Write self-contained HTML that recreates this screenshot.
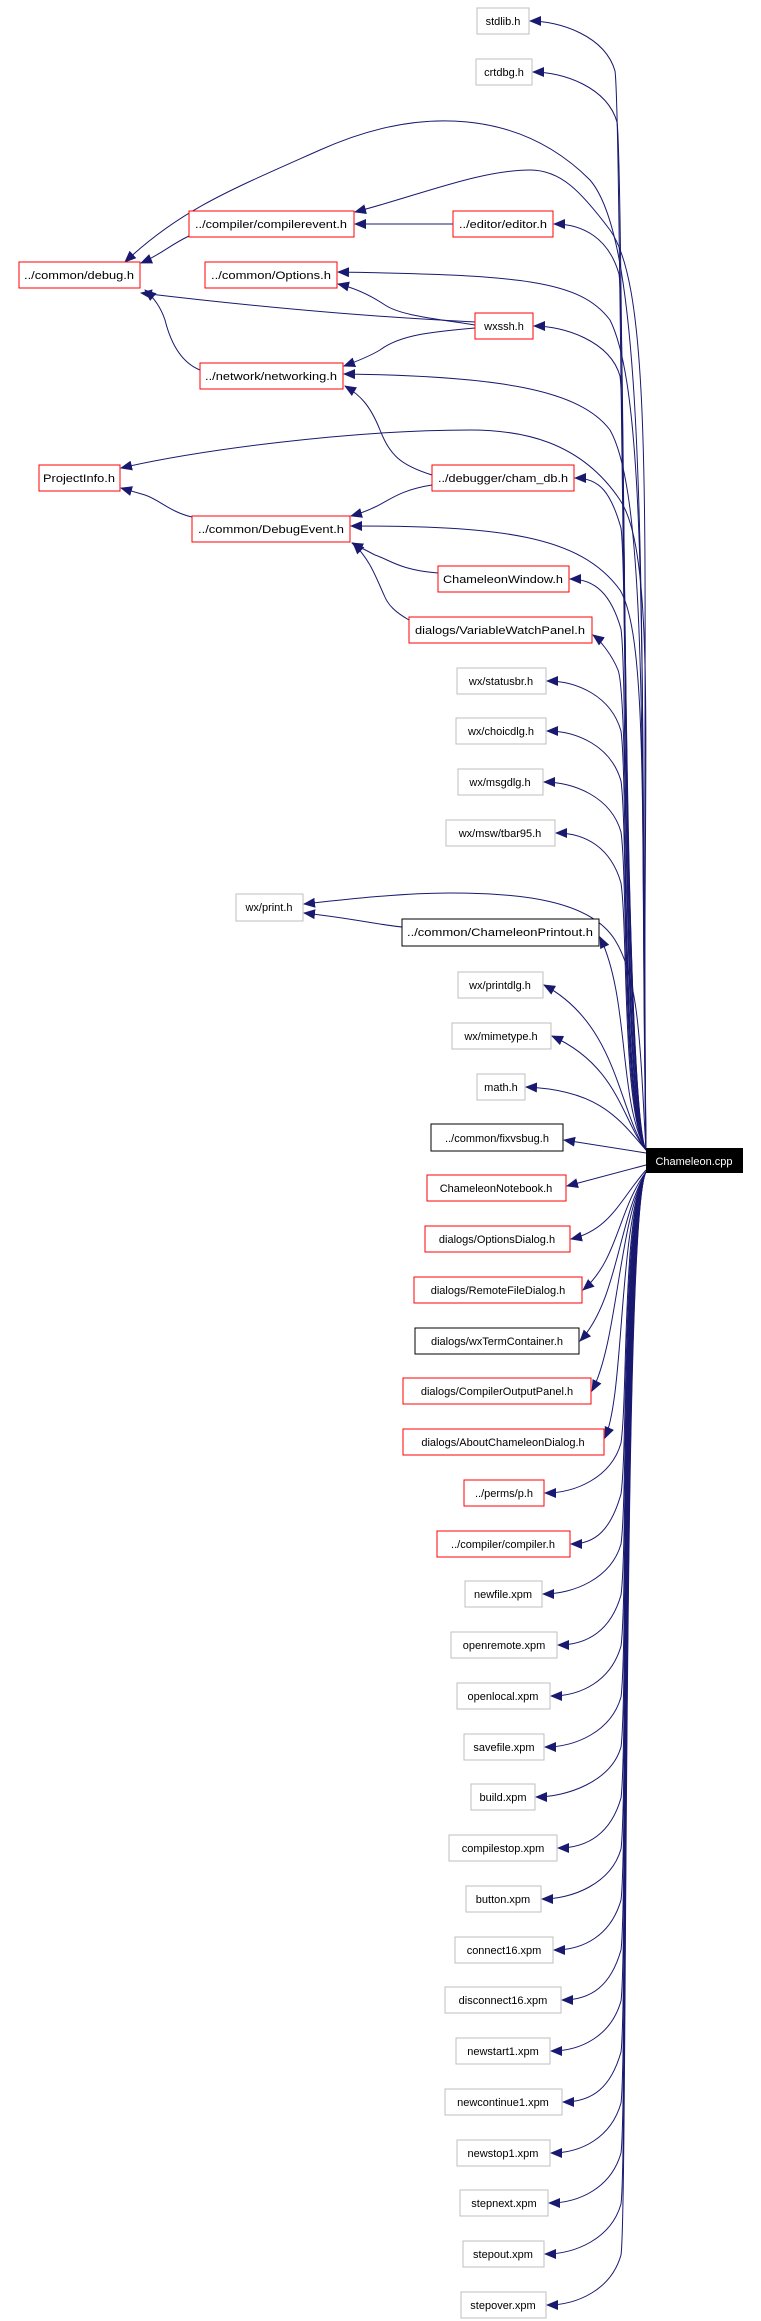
<!DOCTYPE html>
<html><head><meta charset="utf-8"><style>
html,body{margin:0;padding:0;background:#fff;}
svg{display:block;}
text{font-family:"Liberation Sans",sans-serif;font-size:11px;fill:#000;}
.g{fill:#fff;stroke:#bfbfbf;stroke-width:1;}
.r{fill:#fff;stroke:#ff0000;stroke-width:1;}
.k{fill:#fff;stroke:#000;stroke-width:1;}
path.e{fill:none;stroke:#191970;stroke-width:1;marker-end:url(#a);}
</style></head><body>
<svg width="761" height="2321" viewBox="0 0 761 2321" xmlns="http://www.w3.org/2000/svg">
<defs><marker id="a" markerUnits="userSpaceOnUse" markerWidth="12" markerHeight="10" refX="11" refY="5" orient="auto"><path d="M0,0 L12,5 L0,10 z" fill="#191970"/></marker></defs>

<!-- long arcs -->
<path class="e" d="M646,1150 C640,600 650,250 590,180 C520,110 420,105 320,150 C230,190 180,210 125,262"/>
<path class="e" d="M646,1150 C640,600 660,300 610,230 C580,190 560,170 530,170 C480,170 420,195 355,212"/>
<path class="e" d="M646,1150 C640,700 650,400 610,320 C580,280 520,275 338,272"/>
<path class="e" d="M646,1150 C640,800 650,500 610,430 C580,390 500,376 344,374"/>
<path class="e" d="M646,1150 C640,800 660,560 620,500 C580,440 520,430 470,430 C350,430 200,450 121,468"/>
<path class="e" d="M646,1150 C640,850 650,640 620,590 C580,535 500,526 351,526"/>
<path class="e" d="M646,1150 C640,1050 640,980 615,940 C590,900 520,893 450,893 C400,893 340,900 304,904"/>

<!-- internal edges -->
<path class="e" d="M453,224 L355,224"/>
<path class="e" d="M189,236 C170,245 160,255 141,263"/>
<path class="e" d="M475,322 C400,318 300,312 141,293"/>
<path class="e" d="M475,325 C430,318 400,315 385,305 C370,295 355,288 338,284"/>
<path class="e" d="M475,328 C430,332 400,335 380,350 C370,356 355,362 344,366"/>
<path class="e" d="M200,370 C180,362 170,340 165,320 C160,305 152,296 145,290"/>
<path class="e" d="M432,475 C400,465 390,455 380,430 C370,405 360,395 345,386"/>
<path class="e" d="M432,485 C400,490 390,500 375,507 C365,512 358,514 351,516"/>
<path class="e" d="M192,517 C170,512 160,500 145,495 L121,488"/>
<path class="e" d="M438,573 C400,570 390,560 375,555 L352,543"/>
<path class="e" d="M409,620 C395,612 388,605 384,595 C375,575 370,560 353,543"/>
<path class="e" d="M402,927 C380,925 350,918 304,913"/>

<!-- cpp to right column, above -->
<path class="e" d="M646,1150 C622,1110 622,121 615,71 C605,36 560,21 530,21"/>
<path class="e" d="M646,1150 C622,1110 624,172 617,122 C607,87 563,72 533,72"/>
<path class="e" d="M646,1150 C622,1110 626,324 619,274 C609,239 584,224 554,224"/>
<path class="e" d="M646,1150 C622,1110 627,426 620,376 C610,341 564,326 534,326"/>
<path class="e" d="M646,1150 C622,1110 628,578 621,528 C611,493 600,478 575,478"/>
<path class="e" d="M646,1150 C622,1110 628,679 621,629 C611,594 595,579 570,579"/>
<path class="e" d="M646,1150 C622,1110 630,700 618,670 C612,655 600,640 593,635"/>
<path class="e" d="M646,1150 C622,1110 628,781 621,731 C611,696 577,681 547,681"/>
<path class="e" d="M646,1150 C622,1110 628,831 621,781 C611,746 577,731 547,731"/>
<path class="e" d="M646,1150 C622,1110 628,882 621,832 C611,797 574,782 544,782"/>
<path class="e" d="M646,1150 C622,1110 628,933 621,883 C611,848 586,833 556,833"/>
<path class="e" d="M646,1150 C618,1100 630,1000 600,937"/>
<path class="e" d="M646,1150 C618,1110 618,1025 544,985"/>
<path class="e" d="M646,1150 C622,1120 618,1066 552,1036"/>
<path class="e" d="M646,1150 C620,1120 600,1090 526,1087"/>
<path class="e" d="M646,1153 L564,1140"/>
<!-- below -->
<path class="e" d="M646,1165 L567,1186"/>
<path class="e" d="M646,1170 C620,1200 610,1230 571,1239"/>
<path class="e" d="M646,1172 C618,1210 618,1260 583,1290"/>
<path class="e" d="M646,1172 C618,1220 618,1300 580,1341"/>
<path class="e" d="M646,1172 C618,1225 618,1341 592,1391"/>
<path class="e" d="M646,1172 C618,1225 625,1392 605,1438"/>
<path class="e" d="M646,1172 C622,1212 628,1393 621,1443 C611,1478 575,1493 545,1493"/>
<path class="e" d="M646,1172 C622,1212 628,1444 621,1494 C611,1529 596,1544 571,1544"/>
<path class="e" d="M646,1172 C622,1212 628,1494 621,1544 C611,1579 573,1594 543,1594"/>
<path class="e" d="M646,1172 C622,1212 628,1545 621,1595 C611,1630 588,1645 558,1645"/>
<path class="e" d="M646,1172 C622,1212 628,1596 621,1646 C611,1681 581,1696 551,1696"/>
<path class="e" d="M646,1172 C622,1212 628,1647 621,1697 C611,1732 575,1747 545,1747"/>
<path class="e" d="M646,1172 C622,1212 628,1697 621,1747 C611,1782 566,1797 536,1797"/>
<path class="e" d="M646,1172 C622,1212 628,1748 621,1798 C611,1833 588,1848 558,1848"/>
<path class="e" d="M646,1172 C622,1212 628,1799 621,1849 C611,1884 572,1899 542,1899"/>
<path class="e" d="M646,1172 C622,1212 628,1850 621,1900 C611,1935 584,1950 554,1950"/>
<path class="e" d="M646,1172 C622,1212 628,1900 621,1950 C611,1985 592,2000 562,2000"/>
<path class="e" d="M646,1172 C622,1212 628,1951 621,2001 C611,2036 581,2051 551,2051"/>
<path class="e" d="M646,1172 C622,1212 628,2002 621,2052 C611,2087 593,2102 563,2102"/>
<path class="e" d="M646,1172 C622,1212 628,2053 621,2103 C611,2138 581,2153 551,2153"/>
<path class="e" d="M646,1172 C622,1212 628,2103 621,2153 C611,2188 579,2203 549,2203"/>
<path class="e" d="M646,1172 C622,1212 628,2154 621,2204 C611,2239 575,2254 545,2254"/>
<path class="e" d="M646,1172 C622,1212 628,2205 621,2255 C611,2290 577,2305 547,2305"/>

<!-- nodes -->
<g text-anchor="middle">
<rect class="g" x="477" y="8" width="52" height="26"/><text x="503" y="25">stdlib.h</text>
<rect class="g" x="476" y="59" width="56" height="26"/><text x="504" y="76">crtdbg.h</text>
<rect class="r" x="189" y="211" width="165" height="26"/><text x="271" y="228" textLength="152" lengthAdjust="spacingAndGlyphs">../compiler/compilerevent.h</text>
<rect class="r" x="453" y="211" width="100" height="26"/><text x="503" y="228" textLength="88" lengthAdjust="spacingAndGlyphs">../editor/editor.h</text>
<rect class="r" x="19" y="262" width="121" height="26"/><text x="79" y="279" textLength="110" lengthAdjust="spacingAndGlyphs">../common/debug.h</text>
<rect class="r" x="205" y="262" width="132" height="26"/><text x="271" y="279" textLength="120" lengthAdjust="spacingAndGlyphs">../common/Options.h</text>
<rect class="r" x="475" y="313" width="58" height="26"/><text x="504" y="330">wxssh.h</text>
<rect class="r" x="200" y="363" width="143" height="26"/><text x="271" y="380" textLength="132" lengthAdjust="spacingAndGlyphs">../network/networking.h</text>
<rect class="r" x="39" y="465" width="81" height="26"/><text x="79" y="482" textLength="72" lengthAdjust="spacingAndGlyphs">ProjectInfo.h</text>
<rect class="r" x="432" y="465" width="142" height="26"/><text x="503" y="482" textLength="130" lengthAdjust="spacingAndGlyphs">../debugger/cham_db.h</text>
<rect class="r" x="192" y="516" width="158" height="26"/><text x="271" y="533" textLength="146" lengthAdjust="spacingAndGlyphs">../common/DebugEvent.h</text>
<rect class="r" x="438" y="566" width="131" height="26"/><text x="503" y="583" textLength="120" lengthAdjust="spacingAndGlyphs">ChameleonWindow.h</text>
<rect class="r" x="409" y="617" width="183" height="26"/><text x="500" y="634" textLength="170" lengthAdjust="spacingAndGlyphs">dialogs/VariableWatchPanel.h</text>
<rect class="g" x="457" y="668" width="89" height="26"/><text x="501" y="685">wx/statusbr.h</text>
<rect class="g" x="456" y="718" width="90" height="26"/><text x="501" y="735">wx/choicdlg.h</text>
<rect class="g" x="458" y="769" width="85" height="26"/><text x="500" y="786">wx/msgdlg.h</text>
<rect class="g" x="446" y="820" width="109" height="26"/><text x="500" y="837">wx/msw/tbar95.h</text>
<rect class="g" x="236" y="894" width="67" height="27"/><text x="269" y="911">wx/print.h</text>
<rect class="k" x="402" y="919" width="197" height="27"/><text x="500" y="936" textLength="186" lengthAdjust="spacingAndGlyphs">../common/ChameleonPrintout.h</text>
<rect class="g" x="458" y="972" width="85" height="26"/><text x="500" y="989">wx/printdlg.h</text>
<rect class="g" x="452" y="1023" width="99" height="26"/><text x="501" y="1040">wx/mimetype.h</text>
<rect class="g" x="477" y="1074" width="48" height="26"/><text x="501" y="1091">math.h</text>
<rect class="k" x="431" y="1124" width="132" height="27"/><text x="497" y="1142">../common/fixvsbug.h</text>
<rect class="r" x="427" y="1175" width="139" height="26"/><text x="496" y="1192">ChameleonNotebook.h</text>
<rect class="r" x="425" y="1226" width="145" height="26"/><text x="497" y="1243">dialogs/OptionsDialog.h</text>
<rect class="r" x="414" y="1277" width="168" height="26"/><text x="498" y="1294">dialogs/RemoteFileDialog.h</text>
<rect class="k" x="415" y="1328" width="164" height="26"/><text x="497" y="1345">dialogs/wxTermContainer.h</text>
<rect class="r" x="403" y="1378" width="188" height="26"/><text x="497" y="1395">dialogs/CompilerOutputPanel.h</text>
<rect class="r" x="403" y="1429" width="201" height="26"/><text x="503" y="1446">dialogs/AboutChameleonDialog.h</text>
<rect class="r" x="464" y="1480" width="80" height="26"/><text x="504" y="1497">../perms/p.h</text>
<rect class="r" x="437" y="1531" width="133" height="26"/><text x="503" y="1548">../compiler/compiler.h</text>
<rect class="g" x="465" y="1581" width="77" height="26"/><text x="503" y="1598">newfile.xpm</text>
<rect class="g" x="451" y="1632" width="106" height="26"/><text x="504" y="1649">openremote.xpm</text>
<rect class="g" x="457" y="1683" width="93" height="26"/><text x="503" y="1700">openlocal.xpm</text>
<rect class="g" x="464" y="1734" width="80" height="26"/><text x="504" y="1751">savefile.xpm</text>
<rect class="g" x="471" y="1784" width="64" height="26"/><text x="503" y="1801">build.xpm</text>
<rect class="g" x="449" y="1835" width="108" height="26"/><text x="503" y="1852">compilestop.xpm</text>
<rect class="g" x="466" y="1886" width="75" height="26"/><text x="503" y="1903">button.xpm</text>
<rect class="g" x="455" y="1937" width="98" height="26"/><text x="504" y="1954">connect16.xpm</text>
<rect class="g" x="445" y="1987" width="116" height="26"/><text x="503" y="2004">disconnect16.xpm</text>
<rect class="g" x="456" y="2038" width="94" height="26"/><text x="503" y="2055">newstart1.xpm</text>
<rect class="g" x="445" y="2089" width="117" height="26"/><text x="503" y="2106">newcontinue1.xpm</text>
<rect class="g" x="457" y="2140" width="93" height="26"/><text x="503" y="2157">newstop1.xpm</text>
<rect class="g" x="460" y="2190" width="88" height="26"/><text x="504" y="2207">stepnext.xpm</text>
<rect class="g" x="463" y="2241" width="81" height="26"/><text x="503" y="2258">stepout.xpm</text>
<rect class="g" x="461" y="2292" width="85" height="26"/><text x="503" y="2309">stepover.xpm</text>
<rect x="646" y="1148" width="97" height="25" fill="#000"/><text x="694" y="1165" style="fill:#fff">Chameleon.cpp</text>
</g>
</svg>
</body></html>
